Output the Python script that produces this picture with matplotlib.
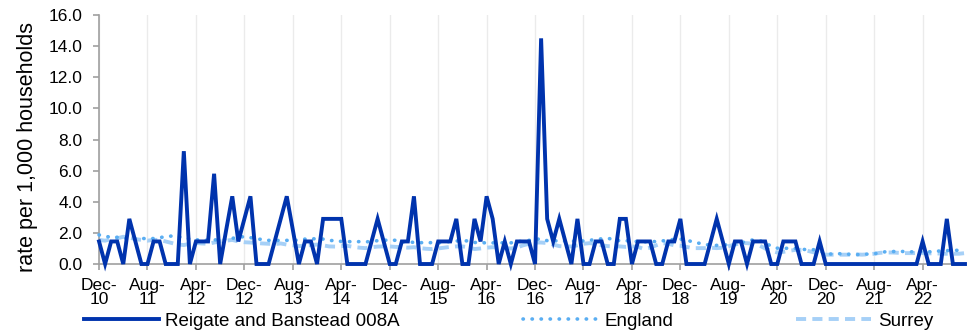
#!/usr/bin/env python3
import matplotlib
matplotlib.use("Agg")
import matplotlib.pyplot as plt
import numpy as np

plt.rcParams['font.family'] = ['Liberation Sans', 'DejaVu Sans']

# monthly values, Dec-10 .. Nov-22 (one row per Dec..Nov year)
reigate = [
    1.45, 0, 1.45, 1.45, 0, 2.9, 1.45, 0, 0, 1.45, 1.45, 0,
    0, 0, 7.25, 0, 1.45, 1.45, 1.45, 5.8, 0, 2.2, 4.35, 1.45,
    2.9, 4.35, 0, 0, 0, 1.45, 2.9, 4.35, 2.2, 0, 1.45, 1.45,
    0, 2.9, 2.9, 2.9, 2.9, 0, 0, 0, 0, 1.45, 2.9, 1.45,
    0, 0, 1.45, 1.45, 4.35, 0, 0, 0, 1.45, 1.45, 1.45, 2.9,
    0, 0, 2.9, 1.45, 4.35, 2.9, 0, 1.45, 0, 1.45, 1.45, 1.45,
    0, 14.5, 2.9, 1.45, 2.9, 1.45, 0, 2.9, 0, 0, 1.45, 1.45,
    0, 0, 2.9, 2.9, 0, 1.45, 1.45, 1.45, 0, 0, 1.45, 1.45,
    2.9, 0, 0, 0, 0, 1.45, 2.9, 1.45, 0, 1.45, 1.45, 0,
    1.45, 1.45, 1.45, 0, 0, 1.45, 1.45, 1.45, 0, 0, 0, 1.45,
    0, 0, 0, 0, 0, 0, 0, 0, 0, 0, 0, 0,
    0, 0, 0, 0, 1.45, 0, 0, 0, 2.9, 0, 0, 0,
]
england = [
    1.87, 1.80, 1.70, 1.72, 1.65, 1.66, 1.62, 1.65, 1.62, 1.64, 1.70, 1.75,
    1.80, 1.78, 1.65, 1.62, 1.55, 1.55, 1.52, 1.55, 1.55, 1.58, 1.65, 1.72,
    1.76, 1.70, 1.58, 1.60, 1.52, 1.53, 1.50, 1.52, 1.50, 1.55, 1.60, 1.62,
    1.62, 1.60, 1.50, 1.52, 1.45, 1.45, 1.42, 1.44, 1.42, 1.45, 1.50, 1.52,
    1.55, 1.52, 1.42, 1.45, 1.38, 1.38, 1.35, 1.38, 1.36, 1.40, 1.45, 1.48,
    1.50, 1.48, 1.38, 1.40, 1.34, 1.36, 1.34, 1.38, 1.36, 1.42, 1.48, 1.52,
    1.58, 1.62, 1.50, 1.52, 1.45, 1.48, 1.46, 1.50, 1.48, 1.52, 1.58, 1.62,
    1.64, 1.60, 1.48, 1.50, 1.45, 1.45, 1.42, 1.45, 1.44, 1.48, 1.55, 1.58,
    1.60, 1.55, 1.42, 1.34, 1.30, 1.17, 1.20, 1.22, 1.23, 1.25, 1.35, 1.48,
    1.55, 1.52, 1.35, 1.15, 1.02, 1.00, 1.02, 1.00, 0.95, 0.92, 0.92, 0.85,
    0.66, 0.64, 0.66, 0.66, 0.62, 0.60, 0.62, 0.64, 0.66, 0.72, 0.80, 0.80,
    0.82, 0.80, 0.78, 0.80, 0.80, 0.78, 0.82, 0.84, 0.86, 0.88, 0.88, 0.90,
]
surrey = [
    1.55, 1.50, 1.60, 1.65, 1.75, 1.70, 1.60, 1.55, 1.50, 1.55, 1.55, 1.45,
    1.35, 1.25, 1.22, 1.30, 1.35, 1.32, 1.30, 1.38, 1.45, 1.50, 1.55, 1.45,
    1.40, 1.38, 1.35, 1.32, 1.30, 1.28, 1.32, 1.25, 1.20, 1.15, 1.18, 1.22,
    1.25, 1.20, 1.13, 1.12, 1.15, 1.17, 1.10, 1.05, 1.02, 1.08, 1.12, 1.13,
    1.13, 1.10, 1.08, 1.05, 1.08, 1.02, 0.98, 0.96, 1.00, 1.05, 1.10, 1.13,
    1.13, 1.08, 0.96, 1.00, 1.05, 1.08, 1.06, 1.02, 1.00, 1.05, 1.20, 1.30,
    1.38, 1.38, 1.35, 1.25, 1.15, 1.12, 1.13, 1.20, 1.30, 1.34, 1.30, 1.20,
    1.15, 1.13, 1.13, 1.10, 1.13, 1.10, 0.96, 1.05, 1.20, 1.34, 1.30, 1.20,
    1.17, 1.10, 1.02, 1.02, 1.02, 1.05, 1.02, 1.05, 1.15, 1.25, 1.34, 1.34,
    1.30, 1.20, 1.00, 0.85, 0.74, 0.78, 0.85, 0.91, 0.91, 0.85, 0.75, 0.65,
    0.60, 0.60, 0.60, 0.60, 0.60, 0.62, 0.60, 0.62, 0.66, 0.72, 0.74, 0.74,
    0.72, 0.70, 0.70, 0.70, 0.70, 0.68, 0.70, 0.66, 0.66, 0.66, 0.66, 0.70,
]
tick_labels = ['Dec-\n10', 'Aug-\n11', 'Apr-\n12', 'Dec-\n12', 'Aug-\n13', 'Apr-\n14',
               'Dec-\n14', 'Aug-\n15', 'Apr-\n16', 'Dec-\n16', 'Aug-\n17', 'Apr-\n18',
               'Dec-\n18', 'Aug-\n19', 'Apr-\n20', 'Dec-\n20', 'Aug-\n21', 'Apr-\n22']

narrow = ['Liberation Sans Narrow', 'Liberation Sans']
x = np.arange(len(reigate))

fig = plt.figure(figsize=(9.72, 3.35), dpi=100)
ax = fig.add_axes([0.1019, 0.2119, 0.8909, 0.7433])

ax.plot(x, reigate, color='#0033AD', lw=2.8, solid_joinstyle='miter',
        label='Reigate and Banstead 008A', clip_on=False, zorder=4)
ax.plot(x, england, color='#5AAEF2', lw=2.6, linestyle=(0, (0.1, 2.4)),
        dash_capstyle='round', label='England', clip_on=False, zorder=3)
ax.plot(x, surrey, color='#A6D0F7', lw=2.8, linestyle=(0, (2.6, 1.6)),
        label='Surrey', clip_on=False, zorder=2)

ax.set_xlim(0, len(reigate) - 1)
ax.set_ylim(0, 16)
ax.set_yticks(np.arange(0, 17, 2))
ax.set_yticklabels(['%.1f' % v for v in np.arange(0, 17, 2)], fontsize=12.5)
ax.set_xticks(x[::8])
ax.set_xticklabels(tick_labels, fontsize=12.5, linespacing=0.95, family=narrow)
ax.set_ylabel('rate per 1,000 households', fontsize=15.5)
ax.yaxis.set_label_coords(-0.07, 0.47)

ax.grid(axis='x', color='#EBEBEB', lw=1)
ax.set_axisbelow(True)
for s in ['top', 'right']:
    ax.spines[s].set_visible(False)
for s in ['left', 'bottom']:
    ax.spines[s].set_color('#A0A0A0')
    ax.spines[s].set_linewidth(1.2)
ax.tick_params(axis='both', colors='#A0A0A0', labelcolor='black', length=4, width=1.2)
ax.tick_params(axis='y', pad=8)
ax.tick_params(axis='x', pad=6)

leg = fig.legend(loc='lower center', bbox_to_anchor=(0.523, -0.035), ncol=3, frameon=False,
                 handlelength=4.0, handletextpad=0.35, columnspacing=6.55,
                 prop={'family': narrow, 'size': 13.5})

fig.savefig('out.png', dpi=100)
